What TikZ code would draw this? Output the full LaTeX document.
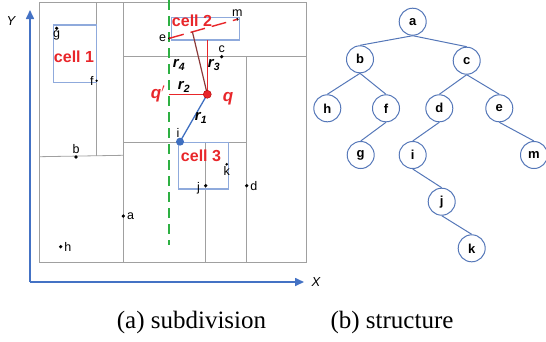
\documentclass[tikz,border=0pt]{standalone}
\usepackage{fontspec}
\setmainfont{Liberation Sans}
\newfontfamily\capfont{Liberation Serif}
\usetikzlibrary{arrows.meta,calc}
\definecolor{gridc}{HTML}{A0A0A0}
\definecolor{axisc}{HTML}{4472C4}
\definecolor{cellc}{HTML}{8FAADC}
\definecolor{redc}{HTML}{E8262A}
\definecolor{greenc}{HTML}{2EB043}
\definecolor{treec}{HTML}{5577B8}
\definecolor{darkredc}{HTML}{8B3A3A}
\definecolor{bluedot}{HTML}{3F6FC0}
\tikzset{
  gridline/.style={draw=gridc, line width=0.8pt},
  cellbox/.style={draw=cellc, line width=1.3pt},
  pt/.style={circle, fill=black, inner sep=0pt, minimum size=3.6pt},
  ptlabel/.style={font=\fontsize{12.5}{12.5}\selectfont, inner sep=1.5pt},
  celltext/.style={text=redc, font=\bfseries\fontsize{16}{16}\selectfont, inner sep=0pt},
  rlabel/.style={font=\bfseries\itshape\fontsize{15}{15}\selectfont, inner sep=0pt},
  qlabel/.style={text=redc, font=\bfseries\itshape\fontsize{17}{17}\selectfont, inner sep=0pt},
  tnode/.style={circle, draw=treec, line width=1pt, minimum size=27pt, inner sep=0pt, font=\bfseries\fontsize{13}{13}\selectfont},
  tedge/.style={draw=treec, line width=1pt},
  axis/.style={draw=axisc, line width=1.6pt, -{Triangle[length=9pt,width=8pt]}},
  caption/.style={font=\capfont\fontsize{25}{25}\selectfont, inner sep=0pt}
}
\begin{document}
\begin{tikzpicture}[x=1pt,y=-1pt]
\useasboundingbox (0,0) rectangle (546,341);

% axes
\coordinate (O) at (30,282);
\coordinate (ytop) at (30,10);
\coordinate (xend) at (304,282);
\draw[axis] (O) -- (ytop);
\draw[axis] (O) -- (xend);
\node[font=\itshape\fontsize{13}{13}\selectfont] (ylab) at (11,21) {Y};
\node[font=\itshape\fontsize{13}{13}\selectfont] (xlab) at (316,282) {X};

% subdivision grid
\draw[gridline] (39.3,2.7) rectangle (306,262.3);
\draw[gridline] (96.7,2.7) -- (96.7,156);
\draw[gridline] (39.3,156.7) -- (123.3,155.3);
\draw[gridline] (123.3,2.7) -- (123.3,262.3);
\draw[gridline] (123.3,56.7) -- (306,56.7);
\draw[gridline] (246.7,56.7) -- (246.7,262.3);
\draw[gridline] (123.3,142.3) -- (246.7,142.3);
\draw[gridline] (205,142.3) -- (205,262.3);

% cells
\draw[cellbox] (53.3,25) rectangle (96.7,82.7);
\draw[cellbox] (171.7,17.3) rectangle (239.3,40);
\draw[cellbox] (178.3,142.7) rectangle (228.3,189);

% green dashed line
\draw[draw=greenc, line width=1.7pt, dash pattern=on 10pt off 6pt] (169.3,0) -- (169.3,245);

% points
\node[pt] (pa) at (123.3,216) {};
\node[pt] (pb) at (76,157) {};
\node[pt] (pc) at (221.7,56.7) {};
\node[pt] (pd) at (246.7,185.7) {};
\node[pt, minimum size=2.5pt] (pe) at (169.3,38.3) {};
\node[pt, minimum size=2.5pt] (pf) at (96.7,80.7) {};
\node[pt] (pg) at (56.7,28.3) {};
\node[pt] (ph) at (60.7,246.7) {};
\node[pt] (pj) at (205.7,185.7) {};
\node[pt, minimum size=2.8pt] (pk) at (226.7,164.3) {};
\node[pt, minimum size=2.8pt] (pm) at (237.3,19.3) {};

\node[ptlabel, right] at (pa.east) {a};
\node[ptlabel, above] at (pb.north) {b};
\node[ptlabel, above] at (pc.north) {c};
\node[ptlabel, right] at (pd.east) {d};
\node[ptlabel, left] at (pe.west) {e};
\node[ptlabel, left] at (pf.west) {f};
\node[ptlabel, below, inner sep=0pt] at (pg.south) {g};
\node[ptlabel, right] at (ph.east) {h};
\node[ptlabel, left] at ($(pj.west)+(-2,3)$) {j};
\node[ptlabel, below, inner sep=0.5pt] at (pk.south) {k};
\node[ptlabel, above] at (pm.north) {m};

% red dashed line e--m
\draw[draw=redc, line width=1.4pt, dash pattern=on 15pt off 7pt] (pe.center) -- (pm.center);

% query geometry
\coordinate (q) at (207.3,94.3);
\coordinate (qp) at (169.3,94.3);
\coordinate (r3end) at (207.3,40);
\coordinate (r4end) at ($(pe.center)!0.34!(pm.center)$);
\coordinate (ipos) at (180,141.7);

\draw[draw=redc, line width=1.2pt] (q) -- (r3end);
\draw[draw=redc, line width=1.2pt] (q) -- (qp);
\draw[draw=darkredc, line width=1.2pt] (q) -- (r4end);
\draw[draw=bluedot, line width=1.3pt] (q) -- (ipos);
\node[circle, fill=redc, draw=red!70!black, line width=0.4pt, inner sep=0pt, minimum size=8pt] (qdot) at (q) {};
\node[circle, fill=bluedot, inner sep=0pt, minimum size=8pt] (idot) at (ipos) {};
\node[ptlabel] at (178,133) {i};

% labels
\node[celltext] at (74,57) {cell 1};
\node[celltext] at (192,21) {cell 2};
\node[celltext] at (201,156) {cell 3};
\node[rlabel] at (179,65) {r\textsubscript{4}};
\node[rlabel] at (214,65) {r\textsubscript{3}};
\node[rlabel] at (184,87) {r\textsubscript{2}};
\node[rlabel] at (201,118) {r\textsubscript{1}};
\node[qlabel] at (158,94) {q$'$};
\node[qlabel] at (228,99) {q};

% tree
\node[tnode] (a) at (412.7,21.7) {a};
\node[tnode] (b) at (360,59.3) {b};
\node[tnode] (c) at (466.7,60.7) {c};
\node[tnode] (h) at (327.3,108.3) {h};
\node[tnode] (f) at (386,108.3) {f};
\node[tnode] (d) at (439.3,108.3) {d};
\node[tnode] (e) at (499.3,108.3) {e};
\node[tnode] (g) at (360.7,155) {g};
\node[tnode] (i) at (412.7,155) {i};
\node[tnode] (m) at (534,155) {m};
\node[tnode] (j) at (441.7,201.7) {j};
\node[tnode] (k) at (471.7,248.3) {k};
\foreach \p/\c in {a/b,a/c,b/h,b/f,f/g,c/d,c/e,d/i,e/m,i/j,j/k}
  \draw[tedge] (\p.south) -- (\c.north);

% captions
\node[caption] (capa) at (191.5,322) {(a) subdivision};
\node[caption] (capb) at (392,322) {(b) structure};
\end{tikzpicture}
\end{document}
